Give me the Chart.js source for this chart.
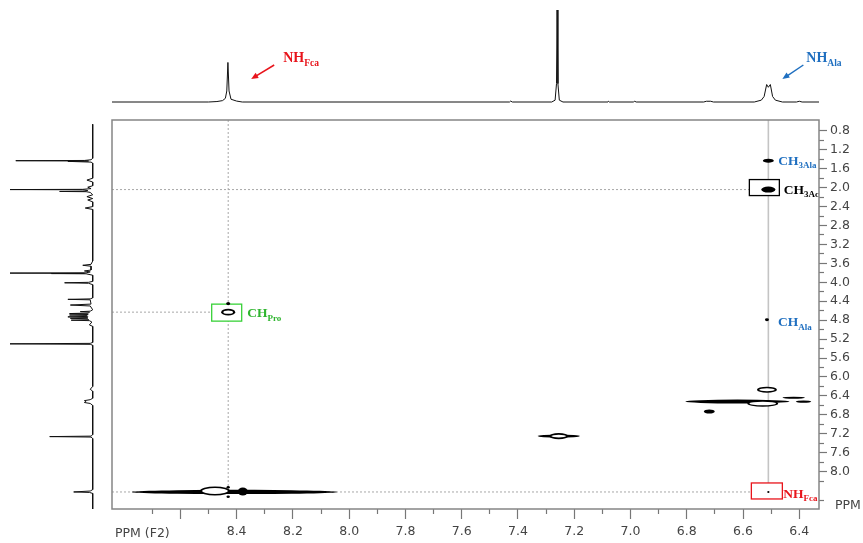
<!DOCTYPE html>
<html>
<head>
<meta charset="utf-8">
<script src="https://cdn.jsdelivr.net/npm/chart.js@4.4.1/dist/chart.umd.min.js"></script>
<style>
  html, body { margin: 0; padding: 0; background: #fff; }
  #wrap { position: relative; width: 863px; height: 543px; overflow: hidden; }
  canvas { position: absolute; left: 0; top: 0; }
  .axis-name { position: absolute; font: 12.5px "DejaVu Sans", sans-serif; color: #444; white-space: nowrap; }
</style>
</head>
<body>
<div id="wrap">
  <canvas id="mainChart" width="863" height="543"></canvas>
  <canvas id="topChart" width="863" height="112"></canvas>
  <canvas id="sideChart" width="112" height="543"></canvas>
  <div class="axis-name" style="left:115px;top:525px">PPM (F2)</div>
  <div class="axis-name" style="left:835px;top:497px">PPM</div>
</div>
<script>
// axis limits (ppm)
const f2Min = 6.33;
const f2Max = 8.843;
const f1Min = 0.57;
const f1Max = 8.79;

// F2 (horizontal) ticks
const xTicks = [8.7, 8.6, 8.5, 8.4, 8.3, 8.2, 8.1, 8.0, 7.9, 7.8, 7.7, 7.6, 7.5, 7.4, 7.3, 7.2, 7.1, 7.0, 6.9, 6.8, 6.7, 6.6, 6.5, 6.4];
const xTickLabels = ["", "", "", "8.4", "", "8.2", "", "8.0", "", "7.8", "", "7.6", "", "7.4", "", "7.2", "", "7.0", "", "6.8", "", "6.6", "", "6.4"];

// F1 (vertical) ticks
const yTicks = [0.8, 1.0, 1.2, 1.4, 1.6, 1.8, 2.0, 2.2, 2.4, 2.6, 2.8, 3.0, 3.2, 3.4, 3.6, 3.8, 4.0, 4.2, 4.4, 4.6, 4.8, 5.0, 5.2, 5.4, 5.6, 5.8, 6.0, 6.2, 6.4, 6.6, 6.8, 7.0, 7.2, 7.4, 7.6, 7.8, 8.0, 8.2, 8.6];
const yTickLabels = ["0.8", "", "1.2", "", "1.6", "", "2.0", "", "2.4", "", "2.8", "", "3.2", "", "3.6", "", "4.0", "", "4.4", "", "4.8", "", "5.2", "", "5.6", "", "6.0", "", "6.4", "", "6.8", "", "7.2", "", "7.6", "", "8.0", "", ""];

// 1D projection along F2 (top trace): ppm / relative intensity
const topPpm = [8.843, 8.50, 8.47, 8.45, 8.44, 8.435, 8.431, 8.427, 8.42, 8.40, 8.38,
  7.43, 7.426, 7.42, 7.28, 7.268, 7.263, 7.261, 7.258, 7.253, 7.24,
  7.08, 7.078, 7.075, 6.99, 6.985, 6.98, 6.74, 6.73, 6.715, 6.705,
  6.56, 6.535, 6.525, 6.516, 6.51, 6.503, 6.495, 6.485, 6.46,
  6.41, 6.40, 6.39, 6.33];
const topInt = [0, 0, 0.5, 1.5, 4, 12, 43, 12, 3, 1, 0,
  0, 1, 0, 0, 2, 20, 100, 20, 2, 0,
  0, 0.8, 0, 0, 0.8, 0, 0, 0.8, 0.8, 0,
  0, 2, 6, 19, 16, 19, 6, 2, 0,
  0, 0.8, 0, 0];

// 1D projection along F1 (left trace): ppm / relative intensity
const sidePpm = [0.66, 1.38, 1.41, 1.425, 1.43, 1.437, 1.444, 1.46, 1.48,
  1.80, 1.84, 1.88, 1.96, 1.99, 2.02, 2.035, 2.04, 2.045, 2.06, 2.075, 2.08, 2.085, 2.10, 2.15, 2.19, 2.23, 2.26, 2.30, 2.40, 2.43, 2.46,
  3.55, 3.62, 3.64, 3.66, 3.74, 3.76, 3.78, 3.80, 3.805, 3.81, 3.815, 3.82, 3.85,
  3.98, 4.00, 4.01, 4.02, 4.05, 4.33, 4.35, 4.36, 4.37, 4.46, 4.48, 4.50,
  4.58, 4.61, 4.62, 4.63, 4.65, 4.66, 4.67, 4.68, 4.69, 4.70, 4.72, 4.73, 4.74, 4.75, 4.76, 4.77, 4.79, 4.80, 4.81, 4.84, 4.90, 4.93,
  5.27, 5.29, 5.30, 5.31, 5.33,
  6.20, 6.26, 6.30, 6.45, 6.48, 6.50, 6.52, 6.54, 6.56, 6.60,
  7.22, 7.25, 7.26, 7.27, 7.30,
  8.38, 8.41, 8.43, 8.44, 8.46, 8.79];
const sideInt = [0, 0, 2, 10, 93, 5, 30, 2, 0,
  0, 7, 0, 0, 6, 2, 12, 100, 12, 6, 10, 40, 8, 3, 0, 7, 0, 6, 0, 0, 9, 0,
  0, 2, 12, 2, 2, 10, 3, 8, 100, 10, 50, 8, 0,
  0, 5, 34, 5, 0, 0, 3, 30, 3, 2, 27, 3,
  0, 3, 15, 4, 5, 28, 6, 6, 28, 7, 6, 30, 7, 6, 27, 6, 5, 26, 4, 1, 4, 0,
  0, 3, 100, 3, 0,
  0, 3, 0, 0, 3, 10, 8, 10, 3, 0,
  0, 2, 52, 2, 0,
  0, 3, 23, 4, 0, 0];

// 2D contours: centre (F2, F1) and extent (F2, F1) in ppm; open = ring contour
const peakF2 = [8.408, 8.378, 8.43, 8.43, 7.255, 6.62, 6.385, 6.42, 6.72, 6.51, 6.51, 6.515, 8.43, 6.51, 8.477, 7.255, 6.53, 6.515, 8.43];
const peakF1 = [8.43, 8.42, 8.33, 8.53, 7.25, 6.52, 6.52, 6.44, 6.73, 1.43, 2.04, 4.79, 4.45, 8.43, 8.41, 7.25, 6.56, 6.27, 4.63];
const peakWidthF2 = [0.73, 0.036, 0.012, 0.012, 0.15, 0.37, 0.055, 0.08, 0.039, 0.039, 0.05, 0.014, 0.014, 0.008, 0.107, 0.068, 0.11, 0.071, 0.05];
const peakWidthF1 = [0.09, 0.17, 0.05, 0.05, 0.07, 0.085, 0.05, 0.04, 0.085, 0.085, 0.127, 0.06, 0.07, 0.04, 0.19, 0.127, 0.14, 0.127, 0.14];
const peakOpen = [false, false, false, false, false, false, false, false, false, false, false, false, false, false, true, true, true, true, true];

// amide resonances and the assigned (boxed) cross peaks
const nhF2 = [8.43, 6.51];
const boxedPeak = [10, 18, 13];

const blue = "#1f6fc0";
const red = "#e8141b";
const green = "#2fb52f";

const boxStyles = [
  { dx: -19, dy: -10, w: 30, h: 16, color: "#000" },
  { dx: -16.5, dy: -8, w: 30, h: 17, color: "#39d139" },
  { dx: -17, dy: -9, w: 31, h: 16, color: red },
];

const mainLabels = [
  { peak: 9, dx: 10, dy: 4, text: "CH", sub: "3Ala", color: blue },
  { peak: 10, dx: 15.5, dy: 4.5, text: "CH", sub: "3Ac", color: "#000" },
  { peak: 11, dx: 11, dy: 6.5, text: "CH", sub: "Ala", color: blue },
  { peak: 18, dx: 19, dy: 5, text: "CH", sub: "Pro", color: green },
  { peak: 13, dx: 15, dy: 6, text: "NH", sub: "Fca", color: red },
];

function drawChem(ctx, x, y, text, sub, color, size, subSize) {
  ctx.fillStyle = color;
  ctx.textBaseline = "alphabetic";
  ctx.textAlign = "left";
  ctx.font = `bold ${size}px "Liberation Serif", serif`;
  ctx.fillText(text, x, y);
  const w = ctx.measureText(text).width;
  ctx.font = `bold ${subSize}px "Liberation Serif", serif`;
  ctx.fillText(sub, x + w, y + size * 0.25);
}

function drawArrow(ctx, x1, y1, x2, y2, color) {
  const a = Math.atan2(y2 - y1, x2 - x1);
  ctx.strokeStyle = color;
  ctx.fillStyle = color;
  ctx.lineWidth = 1.5;
  ctx.beginPath();
  ctx.moveTo(x1, y1);
  ctx.lineTo(x2 - 4 * Math.cos(a), y2 - 4 * Math.sin(a));
  ctx.stroke();
  ctx.beginPath();
  ctx.moveTo(x2, y2);
  ctx.lineTo(x2 - 7 * Math.cos(a) + 3 * Math.sin(a), y2 - 7 * Math.sin(a) - 3 * Math.cos(a));
  ctx.lineTo(x2 - 7 * Math.cos(a) - 3 * Math.sin(a), y2 - 7 * Math.sin(a) + 3 * Math.cos(a));
  ctx.closePath();
  ctx.fill();
}

const contourPlugin = {
  id: "contours",
  afterDatasetsDraw(chart) {
    const { ctx, chartArea, scales } = chart;
    const x = scales.x;
    const y = scales.y;
    ctx.save();
    ctx.beginPath();
    ctx.rect(chartArea.left, chartArea.top, chartArea.right - chartArea.left, chartArea.bottom - chartArea.top);
    ctx.clip();

    boxedPeak.forEach((p, i) => {
      const s = boxStyles[i];
      const px = x.getPixelForValue(peakF2[p]);
      const py = y.getPixelForValue(peakF1[p]);
      ctx.fillStyle = "#fff";
      ctx.fillRect(px + s.dx, py + s.dy, s.w, s.h);
      ctx.strokeStyle = s.color;
      ctx.lineWidth = 1.3;
      ctx.strokeRect(px + s.dx, py + s.dy, s.w, s.h);
    });

    peakF2.forEach((f2, i) => {
      const cx = x.getPixelForValue(f2);
      const cy = y.getPixelForValue(peakF1[i]);
      const rx = Math.abs(x.getPixelForValue(f2 + peakWidthF2[i] / 2) - cx);
      const ry = Math.abs(y.getPixelForValue(peakF1[i] + peakWidthF1[i] / 2) - cy);
      ctx.beginPath();
      ctx.ellipse(cx, cy, rx, ry, 0, 0, Math.PI * 2);
      ctx.fillStyle = "#000";
      ctx.fill();
      if (peakOpen[i]) {
        ctx.beginPath();
        ctx.ellipse(cx, cy, Math.max(rx - 2.2, 1), Math.max(ry - 1.6, 0.8), 0, 0, Math.PI * 2);
        ctx.fillStyle = "#fff";
        ctx.fill();
      }
    });
    ctx.restore();

    ctx.save();
    mainLabels.forEach((l) => {
      const px = x.getPixelForValue(peakF2[l.peak]);
      const py = y.getPixelForValue(peakF1[l.peak]);
      drawChem(ctx, px + l.dx, py + l.dy, l.text, l.sub, l.color, 13.5, 9);
    });
    ctx.restore();
  },
  afterDraw(chart) {
    const { ctx, chartArea } = chart;
    ctx.save();
    ctx.strokeStyle = "#858585";
    ctx.lineWidth = 1.5;
    ctx.strokeRect(chartArea.left, chartArea.top, chartArea.right - chartArea.left, chartArea.bottom - chartArea.top);
    ctx.restore();
  },
};

const guideSets = [];
nhF2.forEach((f2, i) => {
  guideSets.push({
    data: [{ x: f2, y: f1Min }, { x: f2, y: nhF2[0] }],
    borderColor: i === 0 ? "#a8a8a8" : "#c4c4c4",
    borderWidth: i === 0 ? 1 : 1.6,
    borderDash: i === 0 ? [2, 2] : [],
  });
});
boxedPeak.forEach((p) => {
  guideSets.push({
    data: [{ x: f2Max, y: peakF1[p] }, { x: peakF2[p], y: peakF1[p] }],
    borderColor: "#a8a8a8",
    borderWidth: 1,
    borderDash: [2, 2],
  });
});
guideSets.forEach((d) => {
  d.showLine = true;
  d.pointRadius = 0;
  d.fill = false;
});

new Chart(document.getElementById("mainChart"), {
  type: "scatter",
  data: { datasets: guideSets },
  options: {
    responsive: false,
    animation: false,
    events: [],
    layout: { padding: { left: 112, top: 120, right: 0, bottom: 0 } },
    plugins: { legend: { display: false }, tooltip: { enabled: false } },
    scales: {
      x: {
        type: "linear",
        reverse: true,
        min: f2Min,
        max: f2Max,
        afterBuildTicks: (scale) => {
          scale.ticks = xTicks.map((v) => ({ value: v }));
        },
        afterFit: (scale) => {
          scale.height = 34;
        },
        ticks: {
          autoSkip: false,
          maxRotation: 0,
          padding: 5,
          color: "#444",
          font: { family: "DejaVu Sans", size: 12.5 },
          callback: (v, i) => xTickLabels[i],
        },
        grid: {
          drawOnChartArea: false,
          tickLength: 10,
          tickColor: "#777",
          tickWidth: 1.2,
          tickBorderDash: (c) => (Math.round(c.tick.value * 10) % 2 === 0 ? [] : [5, 20]),
        },
        border: { display: false },
      },
      y: {
        type: "linear",
        position: "right",
        reverse: true,
        min: f1Min,
        max: f1Max,
        afterBuildTicks: (scale) => {
          scale.ticks = yTicks.map((v) => ({ value: v }));
        },
        afterFit: (scale) => {
          scale.width = 44;
        },
        ticks: {
          autoSkip: false,
          padding: 3,
          color: "#444",
          font: { family: "DejaVu Sans", size: 12.5 },
          callback: (v, i) => yTickLabels[i],
        },
        grid: {
          drawOnChartArea: false,
          tickLength: 8,
          tickColor: "#777",
          tickWidth: 1.2,
          tickBorderDash: (c) => (Math.round(c.tick.value * 10) % 4 === 0 ? [] : [5, 20]),
        },
        border: { display: false },
      },
    },
  },
  plugins: [contourPlugin],
});

const topLabelPlugin = {
  id: "topLabels",
  afterDatasetsDraw(chart) {
    const { ctx, scales } = chart;
    const base = scales.y.getPixelForValue(0);
    const xa = scales.x.getPixelForValue(nhF2[0]);
    const xb = scales.x.getPixelForValue(nhF2[1]);
    ctx.save();
    drawArrow(ctx, xa + 46, base - 37, xa + 23, base - 23, red);
    drawChem(ctx, xa + 55, base - 40, "NH", "Fca", red, 14, 9.5);
    drawArrow(ctx, xb + 35, base - 37, xb + 14, base - 23, blue);
    drawChem(ctx, xb + 38, base - 40, "NH", "Ala", blue, 14, 9.5);
    ctx.restore();
  },
};

new Chart(document.getElementById("topChart"), {
  type: "scatter",
  data: {
    datasets: [{
      data: topPpm.map((p, i) => ({ x: p, y: topInt[i] })),
      showLine: true,
      pointRadius: 0,
      borderColor: "#111",
      borderWidth: 1,
      clip: false,
    }],
  },
  options: {
    responsive: false,
    animation: false,
    events: [],
    layout: { padding: { left: 112, right: 44, top: 10, bottom: 10 } },
    plugins: { legend: { display: false }, tooltip: { enabled: false } },
    scales: {
      x: { type: "linear", reverse: true, min: f2Min, max: f2Max, display: false },
      y: { type: "linear", min: 0, max: 100, display: false },
    },
  },
  plugins: [topLabelPlugin],
});

new Chart(document.getElementById("sideChart"), {
  type: "scatter",
  data: {
    datasets: [{
      data: sidePpm.map((p, i) => ({ x: sideInt[i], y: p })),
      showLine: true,
      pointRadius: 0,
      borderColor: "#111",
      borderWidth: 1,
      clip: false,
    }],
  },
  options: {
    responsive: false,
    animation: false,
    events: [],
    layout: { padding: { left: 10, right: 19.3, top: 120, bottom: 34 } },
    plugins: { legend: { display: false }, tooltip: { enabled: false } },
    scales: {
      x: { type: "linear", reverse: true, min: 0, max: 100, display: false },
      y: { type: "linear", reverse: true, min: f1Min, max: f1Max, display: false },
    },
  },
});
</script>
</body>
</html>
